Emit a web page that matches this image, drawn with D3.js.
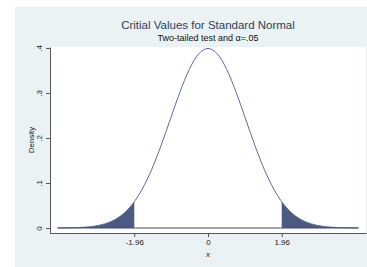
<html>
<head>
<script src="https://cdn.jsdelivr.net/npm/d3@7"></script>
<style>
    body { margin: 0; background: #fff; }
    svg text { font-family: "Liberation Sans", Arial, sans-serif; }
</style>
</head>
<body>
<script>
    // density values, x from -4 to 4 in steps of .25
    var xs = [-4, -3.75, -3.5, -3.25, -3, -2.75, -2.5, -2.25, -2, -1.75, -1.5, -1.25, -1, -0.75, -0.5, -0.25,
              0, 0.25, 0.5, 0.75, 1, 1.25, 1.5, 1.75, 2, 2.25, 2.5, 2.75, 3, 3.25, 3.5, 3.75, 4];
    var density = [0.0001, 0.0004, 0.0009, 0.0020, 0.0044, 0.0091, 0.0175, 0.0317, 0.0540, 0.0863, 0.1295, 0.1826,
                   0.2420, 0.3011, 0.3521, 0.3867, 0.3989, 0.3867, 0.3521, 0.3011, 0.2420, 0.1826, 0.1295, 0.0863,
                   0.0540, 0.0317, 0.0175, 0.0091, 0.0044, 0.0020, 0.0009, 0.0004, 0.0001];
    var critical = [-1.96, 1.96];
    var criticalDensity = 0.0584;
    var xTicks = [-1.96, 0, 1.96];
    var xTickLabels = ["-1.96", "0", "1.96"];
    var yTicks = [0, 0.1, 0.2, 0.3, 0.4];
    var yTickLabels = ["0", ".1", ".2", ".3", ".4"];

    var width = 367, height = 267;
    var pts = xs.map(function(x, i) { return {x: x, y: density[i]}; });

    var svg = d3.select("body").append("svg")
        .attr("width", width)
        .attr("height", height);

    // outer graph region
    svg.append("rect")
        .attr("x", 15).attr("y", 7)
        .attr("width", width - 15).attr("height", height - 7)
        .attr("fill", "#eaf2f3");

    var x = d3.scaleLinear().domain([-4.2, 4.2]).range([50, 366]);
    var y = d3.scaleLinear().domain([-0.0111, 0.4022]).range([233, 47]);

    // plot region
    svg.append("rect")
        .attr("x", 50).attr("y", 47)
        .attr("width", 316).attr("height", 186)
        .attr("fill", "#fff");

    var area = d3.area()
        .x(function(d) { return x(d.x); })
        .y0(y(0))
        .y1(function(d) { return y(d.y); })
        .curve(d3.curveMonotoneX);

    var leftTail = pts.filter(function(d) { return d.x < critical[0]; })
        .concat([{x: critical[0], y: criticalDensity}]);
    var rightTail = [{x: critical[1], y: criticalDensity}]
        .concat(pts.filter(function(d) { return d.x > critical[1]; }));

    svg.selectAll(".tail")
        .data([leftTail, rightTail])
        .enter().append("path")
        .attr("class", "tail")
        .attr("d", area)
        .attr("fill", "#4a5a80");

    var line = d3.line()
        .x(function(d) { return x(d.x); })
        .y(function(d) { return y(d.y); })
        .curve(d3.curveMonotoneX);

    svg.append("path")
        .datum(pts)
        .attr("d", line)
        .attr("fill", "none")
        .attr("stroke", "#5b6d99")
        .attr("stroke-width", 1);

    // baseline under the curve
    svg.append("path")
        .datum([pts[0], pts[pts.length - 1]])
        .attr("d", d3.line().x(function(d) { return x(d.x); }).y(function() { return y(0); }))
        .attr("stroke", "#3f4d70")
        .attr("stroke-width", 1.2);

    // axes
    var yAxis = svg.append("g")
        .attr("transform", "translate(50,0)")
        .call(d3.axisLeft(y).tickValues(yTicks).tickSize(4).tickSizeOuter(0)
            .tickFormat(function(d, i) { return yTickLabels[i]; }));
    yAxis.selectAll("text")
        .attr("x", 0)
        .attr("dy", 0)
        .attr("transform", "translate(-8,0) rotate(-90)")
        .style("text-anchor", "middle")
        .style("font-size", "8px")
        .attr("fill", "#222");

    var xAxis = svg.append("g")
        .attr("transform", "translate(0,233)")
        .call(d3.axisBottom(x).tickValues(xTicks).tickSize(4).tickSizeOuter(0)
            .tickFormat(function(d, i) { return xTickLabels[i]; }));
    xAxis.selectAll("text")
        .attr("y", 6)
        .style("font-size", "8px")
        .attr("fill", "#222");

    svg.selectAll(".domain").attr("stroke", "#555");
    svg.selectAll(".tick line").attr("stroke", "#555");

    // titles
    svg.append("text")
        .attr("x", 208).attr("y", 29)
        .attr("text-anchor", "middle")
        .style("font-size", "11.5px")
        .attr("fill", "#2a3f5f")
        .text("Critial Values for Standard Normal");

    svg.append("text")
        .attr("x", 208).attr("y", 41)
        .attr("text-anchor", "middle")
        .style("font-size", "9px")
        .attr("fill", "#111")
        .text("Two-tailed test and \u03b1=.05");

    svg.append("text")
        .attr("transform", "translate(34,140) rotate(-90)")
        .attr("text-anchor", "middle")
        .style("font-size", "8px")
        .attr("fill", "#222")
        .text("Density");

    svg.append("text")
        .attr("x", 208).attr("y", 257)
        .attr("text-anchor", "middle")
        .style("font-size", "8px")
        .style("font-style", "italic")
        .attr("fill", "#222")
        .text("x");
</script>
</body>
</html>
